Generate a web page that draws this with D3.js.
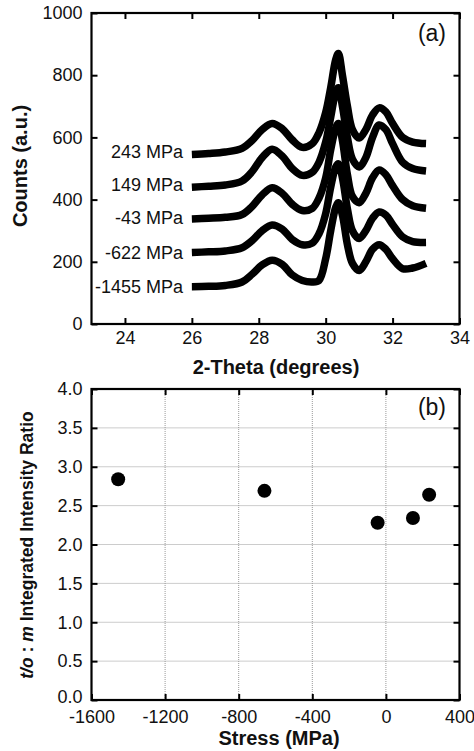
<!DOCTYPE html>
<html>
<head>
<meta charset="utf-8">
<script src="https://cdn.jsdelivr.net/npm/d3@7"></script>
<style>
  html, body { margin: 0; padding: 0; background: #fff; }
  svg { display: block; }
  text { font-family: "Liberation Sans", Arial, Helvetica, sans-serif; fill: #111; }
</style>
</head>
<body>
<svg id="chart" width="474" height="751"></svg>
<script>
// ---------- Panel (a): XRD patterns ----------
const thetaValues = [26.0, 26.5, 27.0, 27.5, 27.8, 28.1, 28.4, 28.7, 29.0, 29.3, 29.6, 29.8,
                     30.0, 30.15, 30.3, 30.38, 30.5, 30.65, 30.8, 31.0, 31.2, 31.4, 31.6, 31.8,
                     32.0, 32.3, 32.6, 33.0];
const stressLabels = ["243 MPa", "149 MPa", "-43 MPa", "-622 MPa", "-1455 MPa"];
const counts243   = [545, 548, 553, 565, 590, 625, 645, 628, 592, 568, 580, 615, 680, 760, 850, 870, 800, 700, 625, 598, 625, 672, 695, 682, 645, 600, 585, 580];
const counts149   = [440, 443, 447, 460, 490, 535, 562, 540, 500, 478, 488, 520, 585, 665, 745, 760, 700, 600, 530, 505, 535, 600, 640, 625, 580, 520, 500, 492];
const countsM43   = [338, 340, 343, 352, 378, 415, 438, 420, 385, 365, 372, 405, 470, 560, 630, 645, 590, 480, 410, 390, 420, 470, 495, 480, 445, 400, 380, 372];
const countsM622  = [230, 232, 235, 245, 268, 300, 318, 305, 272, 255, 260, 290, 355, 440, 505, 515, 470, 370, 300, 275, 300, 340, 360, 350, 320, 280, 265, 262];
const countsM1455 = [120, 121, 124, 135, 160, 190, 205, 192, 158, 140, 135, 140, 210, 300, 375, 390, 350, 255, 195, 172, 200, 240, 255, 240, 210, 178, 180, 195];
const countSeries = [counts243, counts149, countsM43, countsM622, countsM1455];
const countsTicks = [0, 200, 400, 600, 800, 1000];
const thetaTicks = [24, 26, 28, 30, 32, 34];

// ---------- Panel (b): intensity ratio vs stress ----------
const stressValues = [-1455, -660, -45, 147, 235];
const ratioValues  = [2.84, 2.69, 2.28, 2.34, 2.64];
const stressTicks = [-1600, -1200, -800, -400, 0, 400];
const ratioTicks = [0.0, 0.5, 1.0, 1.5, 2.0, 2.5, 3.0, 3.5, 4.0];

const svg = d3.select("#chart");
const left = 91.5, right = 459.5;
const TICK_FONT = 18;

function frame(g, x0, x1, y0, y1) {
  g.append("rect").attr("x", x0).attr("y", y0).attr("width", x1 - x0).attr("height", y1 - y0)
    .attr("fill", "none").attr("stroke", "#000").attr("stroke-width", 2.2);
}
function styleAxis(sel) {
  sel.select(".domain").remove();
  sel.selectAll(".tick line").attr("stroke", "#000").attr("stroke-width", 2);
  sel.selectAll(".tick text").attr("font-size", TICK_FONT).attr("fill", "#111")
     .attr("font-family", "Liberation Sans, Arial, sans-serif");
}
const plain = d => String(d);

// ===== Panel (a) =====
const xA = d3.scaleLinear().domain([23, 34]).range([left, right]);
const yA = d3.scaleLinear().domain([0, 1000]).range([324, 13]);
const gA = svg.append("g");

const lineA = d3.line().x((d, i) => xA(thetaValues[i])).y(d => yA(d)).curve(d3.curveCatmullRom.alpha(0.5));
countSeries.forEach(series => {
  gA.append("path").datum(series).attr("d", lineA)
    .attr("fill", "none").attr("stroke", "#000").attr("stroke-width", 7.5)
    .attr("stroke-linejoin", "round").attr("stroke-linecap", "butt");
});

gA.append("g").attr("transform", "translate(0,324)")
  .call(d3.axisBottom(xA).tickValues(thetaTicks).tickSize(-6).tickPadding(7).tickFormat(plain))
  .call(styleAxis);
gA.append("g").attr("transform", "translate(0,13)")
  .call(d3.axisTop(xA).tickValues(thetaTicks).tickSize(-6).tickFormat(""))
  .call(styleAxis);
gA.append("g").attr("transform", `translate(${left},0)`)
  .call(d3.axisLeft(yA).tickValues(countsTicks).tickSize(-6).tickPadding(9).tickFormat(plain))
  .call(styleAxis);
gA.append("g").attr("transform", `translate(${right},0)`)
  .call(d3.axisRight(yA).tickValues(countsTicks).tickSize(-6).tickFormat(""))
  .call(styleAxis);
frame(gA, left, right, 13, 324);

const labelY = [152, 185, 218, 253, 287];
stressLabels.forEach((t, i) => {
  gA.append("text").attr("x", 183).attr("y", labelY[i]).attr("dy", "0.36em")
    .attr("text-anchor", "end").attr("font-size", 18).text(t);
});
gA.append("text").attr("x", 446).attr("y", 33).attr("dy", "0.36em").attr("text-anchor", "end")
  .attr("font-size", 23).text("(a)");
gA.append("text").attr("x", 276).attr("y", 367).attr("dy", "0.36em").attr("text-anchor", "middle")
  .attr("font-size", 20).attr("font-weight", "bold").text("2-Theta (degrees)");
gA.append("text").attr("transform", "translate(20,166) rotate(-90)").attr("dy", "0.36em")
  .attr("text-anchor", "middle").attr("font-size", 20).attr("font-weight", "bold").text("Counts (a.u.)");

// ===== Panel (b) =====
const xB = d3.scaleLinear().domain([-1600, 400]).range([left, right]);
const yB = d3.scaleLinear().domain([0, 4]).range([700, 389]);
const gB = svg.append("g");

// grid
gB.append("g").selectAll("line").data(stressTicks.slice(1, -1)).join("line")
  .attr("x1", d => xB(d)).attr("x2", d => xB(d)).attr("y1", 389).attr("y2", 700)
  .attr("stroke", "#999").attr("stroke-width", 1).attr("stroke-dasharray", "1,1");
gB.append("g").selectAll("line").data(ratioTicks.slice(1, -1)).join("line")
  .attr("y1", d => yB(d)).attr("y2", d => yB(d)).attr("x1", left).attr("x2", right)
  .attr("stroke", "#999").attr("stroke-width", 1).attr("stroke-dasharray", "1,1");

gB.append("g").attr("transform", "translate(0,700)")
  .call(d3.axisBottom(xB).tickValues(stressTicks).tickSize(-6).tickPadding(10).tickFormat(plain))
  .call(styleAxis);
gB.append("g").attr("transform", "translate(0,389)")
  .call(d3.axisTop(xB).tickValues(stressTicks).tickSize(-6).tickFormat(""))
  .call(styleAxis);
gB.append("g").attr("transform", `translate(${left},0)`)
  .call(d3.axisLeft(yB).tickValues(ratioTicks).tickSize(-6).tickPadding(9).tickFormat(d3.format(".1f")))
  .call(styleAxis)
  .call(s => s.selectAll(".tick text").filter(d => d === 0).attr("dy", "0.12em"));
gB.append("g").attr("transform", `translate(${right},0)`)
  .call(d3.axisRight(yB).tickValues(ratioTicks).tickSize(-6).tickFormat(""))
  .call(styleAxis);
frame(gB, left, right, 389, 700);

gB.append("g").selectAll("circle").data(stressValues).join("circle")
  .attr("cx", d => xB(d)).attr("cy", (d, i) => yB(ratioValues[i])).attr("r", 7).attr("fill", "#000");

gB.append("text").attr("x", 446).attr("y", 407).attr("dy", "0.36em").attr("text-anchor", "end")
  .attr("font-size", 23).text("(b)");
gB.append("text").attr("x", 279).attr("y", 738).attr("dy", "0.36em").attr("text-anchor", "middle")
  .attr("font-size", 20).attr("font-weight", "bold").text("Stress (MPa)");
const yt = gB.append("text").attr("transform", "translate(27,545) rotate(-90)").attr("dy", "0.36em")
  .attr("text-anchor", "middle").attr("font-size", 17.5).attr("font-weight", "bold");
yt.append("tspan").attr("font-style", "italic").text("t/o");
yt.append("tspan").text(" : ");
yt.append("tspan").attr("font-style", "italic").text("m");
yt.append("tspan").text(" Integrated Intensity Ratio");
</script>
</body>
</html>
